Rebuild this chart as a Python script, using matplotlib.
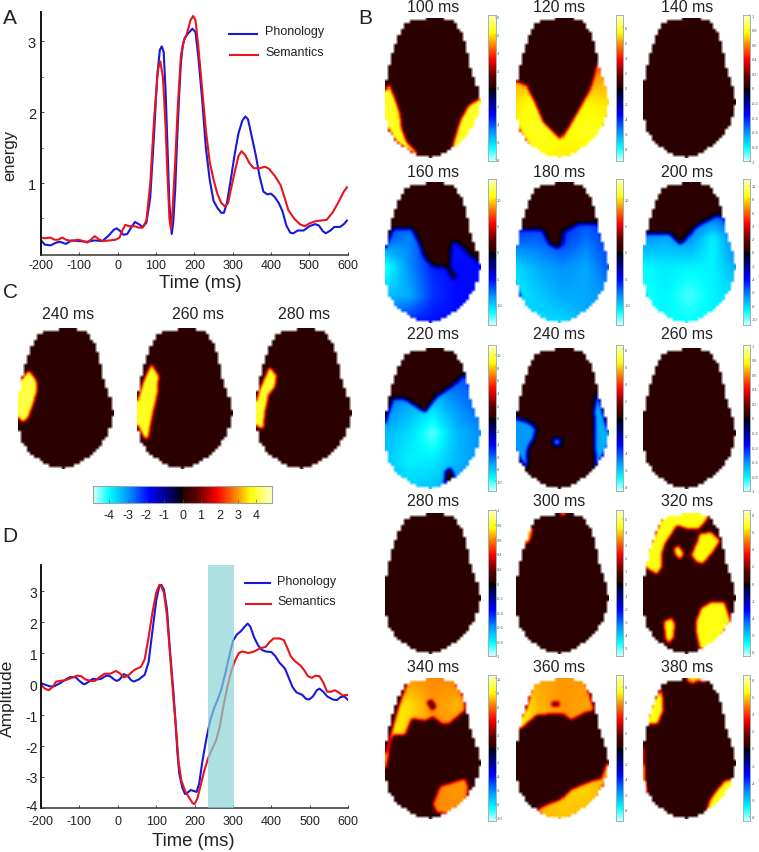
import numpy as np
import matplotlib
matplotlib.use('Agg')
import matplotlib.pyplot as plt
from matplotlib.colors import LinearSegmentedColormap, Normalize
from matplotlib.lines import Line2D
from matplotlib.path import Path
from matplotlib.transforms import ScaledTranslation

plt.rcParams['font.family'] = ['Liberation Sans', 'DejaVu Sans']
plt.rcParams['axes.unicode_minus'] = False
W, H = 759, 853

# ---------- panel A curves ----------
A_PHON_T = [-200,-190,-175,-160,-150,-135,-120,-100,-80,-60,-40,-25,-10,-3,5,15,25,35,45,55,65,75,85,95,103,110,115,120,125,130,135,141,145,150,155,160,165,170,175,185,195,203,210,220,230,240,250,260,270,277,285,295,305,315,325,333,340,350,360,370,380,390,400,410,420,430,440,450,458,470,485,500,515,525,535,543,555,565,580,590,598]
A_PHON_V = [.19,.13,.12,.16,.17,.14,.19,.18,.17,.19,.18,.25,.34,.36,.33,.27,.28,.37,.45,.42,.38,.44,.8,1.7,2.5,2.88,2.93,2.85,2.3,1.5,.7,.28,.45,.9,1.6,2.2,2.7,2.95,3.05,3.12,3.18,3.13,2.8,2.2,1.5,1.05,.75,.65,.58,.58,.72,1.05,1.4,1.7,1.88,1.94,1.9,1.65,1.4,1.1,.88,.84,.85,.8,.72,.6,.4,.3,.29,.33,.33,.39,.42,.4,.32,.29,.33,.38,.38,.42,.47]
A_SEM_T = [-200,-190,-175,-165,-155,-145,-135,-120,-105,-95,-80,-70,-60,-50,-40,-20,-5,5,12,20,30,45,55,65,75,85,95,105,111,118,125,130,135,139,143,150,157,165,172,180,190,197,203,210,220,230,240,250,260,270,280,288,295,305,315,323,332,345,355,370,385,395,410,425,435,445,460,475,488,500,515,530,545,560,575,590,598]
A_SEM_V = [.23,.22,.23,.2,.2,.23,.2,.18,.2,.19,.16,.2,.25,.21,.18,.19,.2,.23,.33,.41,.39,.39,.37,.37,.47,1.0,1.9,2.6,2.72,2.5,1.8,1.1,.5,.35,.6,1.3,2.1,2.8,3.0,3.1,3.3,3.36,3.3,2.95,2.35,1.75,1.3,1.05,.85,.72,.67,.72,.9,1.15,1.38,1.45,1.4,1.27,1.21,1.21,1.23,1.2,1.1,.97,.8,.62,.5,.42,.39,.43,.46,.47,.48,.58,.72,.88,.94]

# ---------- panel D curves ----------
D_PHON_T = [-200,-190,-175,-165,-150,-135,-125,-110,-100,-90,-85,-75,-65,-55,-45,-30,-20,-10,-3,5,15,25,35,42,55,70,80,90,100,108,113,120,128,135,145,150,155,160,168,175,182,190,197,205,212,220,230,240,250,260,270,280,290,300,310,320,330,338,345,355,365,375,385,400,410,420,435,445,455,465,480,490,498,508,518,525,535,545,560,570,580,590,598]
D_PHON_V = [.03,-.02,-.08,-.07,.03,.15,.22,.22,.1,0,0,.08,.17,.15,.16,.27,.25,.15,.1,.15,.32,.27,.12,.08,.15,.3,.7,1.7,2.7,3.15,3.2,3.05,2.4,1.2,-.3,-1.2,-2.2,-2.9,-3.35,-3.55,-3.5,-3.42,-3.45,-3.48,-3.2,-2.5,-1.8,-1.2,-.8,-.5,-.15,.35,.9,1.4,1.6,1.7,1.85,1.95,1.85,1.5,1.25,1.1,1.05,1.03,.9,.7,.5,.2,-.1,-.27,-.35,-.48,-.5,-.4,-.2,-.15,-.25,-.4,-.5,-.52,-.42,-.4,-.5]
D_SEM_T = [-200,-190,-180,-170,-160,-150,-135,-120,-105,-95,-85,-70,-60,-50,-35,-20,-5,5,15,25,35,45,60,70,80,90,100,108,113,120,128,135,145,152,158,165,175,185,195,200,207,215,225,235,245,255,265,275,285,295,305,315,325,340,355,370,385,395,405,420,432,440,450,460,475,485,495,505,515,525,535,545,555,565,575,585,598]
D_SEM_V = [-.03,-.15,-.2,-.1,.08,.1,.13,.2,.27,.25,.15,.1,.1,.2,.33,.33,.42,.35,.22,.25,.37,.47,.55,.8,1.5,2.3,2.95,3.2,3.15,2.95,2.2,1.1,-.5,-1.5,-2.5,-3.1,-3.45,-3.65,-3.85,-3.87,-3.7,-3.3,-2.8,-2.4,-2.1,-1.85,-1.4,-.7,-.1,.4,.75,1.0,1.05,1.0,1.05,1.15,1.2,1.35,1.47,1.47,1.42,1.2,.9,.75,.6,.45,.25,.2,.27,.25,.05,-.25,-.25,-.2,-.27,-.37,-.35]
D_BAND = [235.6, 302]

X_TICKS = [-200,-100,0,100,200,300,400,500,600]
A_YTICKS = [1,2,3]
A_YMINOR = [.5,1.5,2.5]
D_YTICKS = [-4,-3,-2,-1,0,1,2,3]

# ---------- scalp outline (local units, 277 wide, 421 high) ----------
HEAD = [(142,0),(187,7),(202,19),(222,49),(232,79),(242,124),(252,169),(267,214),(277,249),(272,279),(257,319),(242,344),(212,379),(182,399),(132,421),(87,409),(47,384),(17,349),(7,324),(0,269),(0,219),(7,169),(17,129),(27,94),(39,59),(60,16),(87,9),(122,3)]

# ---------- value grids of the graded maps (rows top to bottom, normalised -1..1) ----------
G160 = [[-.4,-.4,-.4,-.4,-.4],[-.45,-.45,-.4,-.4,-.4],[-.5,-.58,-.42,-.4,-.4],[-.87,-.6,-.42,-.38,-.38],[-.7,-.66,-.45,-.38,-.38],[-.45,-.4,-.38,-.38,-.38]]
G180 = [[-.4,-.4,-.4,-.4,-.4],[-.4,-.4,-.4,-.45,-.42],[-.5,-.52,-.45,-.55,-.45],[-.75,-.65,-.6,-.65,-.5],[-.78,-.72,-.65,-.65,-.6],[-.65,-.75,-.75,-.65,-.55]]
G200 = [[-.4,-.4,-.4,-.4,-.4],[-.45,-.45,-.45,-.45,-.45],[-.6,-.65,-.6,-.8,-.55],[-.82,-.78,-.8,-.8,-.65],[-.85,-.8,-.88,-.8,-.75],[-.8,-.82,-.82,-.8,-.75]]
G220 = [[-.45,-.45,-.45,-.45,-.45],[-.5,-.5,-.5,-.5,-.5],[-.55,-.65,-.72,-.6,-.5],[-.68,-.75,-.9,-.68,-.6],[-.7,-.8,-.78,-.68,-.6],[-.65,-.72,-.7,-.62,-.55]]
G120 = [[.62,.62,.62,.62,.62],[.62,.62,.62,.62,.62],[.62,.62,.62,.6,.62],[.72,.8,.75,.75,.72],[.76,.8,.76,.8,.76],[.72,.76,.74,.72,.7]]
G340 = [[.62,.62,.6,.6,.6],[.76,.72,.62,.66,.6],[.76,.7,.6,.6,.6],[.62,.62,.62,.62,.62],[.62,.62,.6,.62,.62],[.6,.6,.6,.6,.6]]
G360 = [[.64,.64,.62,.62,.62],[.78,.66,.62,.64,.62],[.78,.68,.62,.62,.62],[.66,.66,.66,.66,.66],[.66,.66,.7,.7,.66],[.66,.66,.68,.66,.66]]

# ---------- regions: polygon read in zoomed (3x) coordinates, value or grid ----------
R100 = [([(58,258),(30,300),(35,360),(80,430),(140,470),(140,460),(110,430),(95,390),(90,345),(75,300)], .8),
        ([(330,298),(295,320),(270,365),(250,430),(245,465),(290,440),(330,380),(345,300)], .8)]
R120 = [([(437,250),(470,262),(490,300),(520,370),(570,420),(590,390),(630,320),(660,265),(670,230),(680,190),(730,300),(680,440),(600,490),(500,480),(420,350)], G120)]
R160 = [([(70,690),(125,690),(145,730),(160,770),(185,800),(225,805),(250,840),(262,835),(240,800),(245,735),(258,732),(300,770),(332,795),(340,985),(30,985),(30,790)], G160)]
R180 = [([(440,695),(515,695),(535,735),(560,750),(575,740),(580,700),(625,675),(680,675),(730,800),(680,985),(480,985),(420,800)], G180)]
R200 = [([(825,705),(895,705),(930,738),(945,725),(975,685),(1040,650),(1060,660),(1110,800),(1050,990),(850,985),(800,790)], G200)]
R220 = [([(70,180),(100,180),(165,222),(200,175),(250,140),(285,108),(345,270),(320,450),(30,450),(40,270)], G220),
        ([(222,432),(225,395),(240,385),(252,405),(248,432)], 0)]
R240 = [([(437,238),(475,250),(497,268),(490,295),(472,325),(468,385),(445,350),(425,300)], -.62),
        ([(680,165),(670,215),(672,300),(675,385),(720,300),(700,240)], -.66),
        ([(550,300),(570,300),(570,318),(550,318)], -.6)]
R300 = [([(562,20),(575,38),(595,20)], .72),
        ([(488,75),(480,110),(462,125),(440,120),(470,70)], .7)]
R320 = [([(880,30),(1010,20),(1010,45),(985,75),(950,75),(920,65),(905,90),(885,120),(875,150),(875,190),(860,213),(830,195),(815,180),(850,100)], .78),
        ([(910,135),(925,125),(942,150),(930,168),(915,155)], .76),
        ([(985,90),(1020,85),(1048,110),(1030,140),(995,182),(975,175),(960,155),(975,120)], .76),
        ([(990,310),(1020,292),(1060,292),(1080,350),(1040,410),(1000,440),(985,430),(975,385),(975,350)], .78),
        ([(880,350),(905,340),(915,360),(910,400),(895,418),(885,400)], .76)]
R340 = [([(115,525),(200,515),(250,525),(285,590),(285,620),(235,662),(215,662),(190,640),(165,652),(125,645),(105,695),(70,695),(60,720),(55,760),(50,792),(35,792),(60,700),(85,610)], G340),
        ([(170,595),(185,588),(197,610),(185,620)], 0),
        ([(210,845),(285,822),(295,850),(285,910),(235,930),(200,925),(187,900)], G340)]
R360 = [([(490,520),(640,520),(670,620),(640,628),(600,650),(575,630),(540,632),(500,635),(450,677),(430,680),(470,610)], G360),
        ([(545,595),(565,595),(567,608),(545,608)], 0),
        ([(710,770),(690,822),(660,830),(600,855),(570,885),(530,900),(500,915),(540,965),(660,920),(720,800)], G360)]
R380 = [([(950,515),(1000,515),(1005,535),(975,532),(965,542),(950,530)], .72),
        ([(875,555),(880,620),(862,662),(825,662),(850,590)], .78),
        ([(820,730),(825,830),(832,865),(805,870),(805,730)], .78),
        ([(1075,825),(1060,830),(1035,860),(1015,890),(1005,925),(1090,900),(1090,830)], .78)]
RC240 = [([(88,245),(110,275),(112,310),(100,345),(85,385),(70,400),(45,370),(40,300)], .84)]
RC260 = [([(455,225),(477,260),(475,310),(460,370),(445,450),(432,445),(400,380),(430,280)], .8)]
RC280 = [([(808,235),(830,260),(825,295),(805,320),(795,370),(790,418),(775,415),(755,380),(780,300)], .82)]

# ---------- layout of panel B ----------
COL_X = [(45,287),(437,277),(818,277)]
ROW_Y = [(57,0),(550,0),(28,340),(28,505),(523,505)]
B_TITLES = [['100 ms','120 ms','140 ms'],['160 ms','180 ms','200 ms'],['220 ms','240 ms','260 ms'],['280 ms','300 ms','320 ms'],['340 ms','360 ms','380 ms']]
B_REGIONS = [[R100,R120,[]],[R160,R180,R200],[R220,R240,[]],[[],R300,R320],[R340,R360,R380]]
B_TITLE_X = [433,559.5,687]
B_TITLE_Y = [7,173,335,502,668]
CBAR_X = [(488,495.5),(615.5,623),(742.5,750)]
CBAR_Y = [(16,162),(180,326),(346,492),(511,657),(676,822)]
CBAR_MAX = [[8.2,9.6,1],[14,14,11],[11.5,8.5,1],[1,5.7,8.5],[10.5,9.5,8.5]]
CBAR_STEP = [[2,2,.2],[5,5,2],[2,2,.2],[.2,1,2],[2,2,2]]

cmap = LinearSegmentedColormap.from_list('scalp', [
    (0.0,'#d8ffff'),(0.09,'#00ffff'),(0.2,'#0090ff'),(0.315,'#0000ff'),(0.45,'#000050'),(0.4985,'#000000'),
    (0.5,'#2a0000'),(0.58,'#5a0000'),(0.695,'#ff0000'),(0.8,'#ff8800'),(0.88,'#ffff00'),(1.0,'#ffffc8')], N=1024)
norm = Normalize(-1, 1)


def px_axes(x0, y0, x1, y1, **kw):
    return fig.add_axes([x0/W, 1-y1/H, (x1-x0)/W, (y1-y0)/H], **kw)


def ftext(x, y, s, **kw):
    kw.setdefault('ha', 'center')
    kw.setdefault('va', 'center')
    kw.setdefault('color', '#222222')
    fig.text(x/W, 1-y/H, s, **kw)


def box_blur(a):
    p = np.pad(a, 1, mode='edge')
    return sum(np.roll(np.roll(p, i, 0), j, 1) for i in (-1,0,1) for j in (-1,0,1))[1:-1,1:-1]/9


def draw_head(zx0, zw, zy0, ox, oy, regions):
    zh = 421
    ax = px_axes(ox+zx0/3, oy+zy0/3, ox+(zx0+zw)/3, oy+(zy0+zh)/3)
    nx, ny = int(round(zw/3)), int(round(zh/3))
    xs = zx0 + (np.arange(nx)+.5)*zw/nx
    ys = zy0 + (np.arange(ny)+.5)*zh/ny
    xx, yy = np.meshgrid(xs, ys)
    pts = np.c_[xx.ravel(), yy.ravel()]
    field = np.zeros(xx.shape)
    for poly, val in regions:
        inside = Path(poly).contains_points(pts).reshape(xx.shape)
        if np.isscalar(val):
            field[inside] = val
        else:
            g = np.array(val, float)
            rows = np.linspace(zy0, zy0+zh, g.shape[0])
            cols = np.linspace(zx0, zx0+zw, g.shape[1])
            tmp = np.array([np.interp(ys, rows, g[:,c]) for c in range(g.shape[1])]).T
            full = np.array([np.interp(xs, cols, r) for r in tmp])
            field[inside] = full[inside]
    # blocky head mask at the original map resolution
    cell = 9.0
    lx = (xx-zx0)*277/zw
    ly = yy-zy0
    snapped = np.c_[(np.floor(lx.ravel()/cell)+.5)*cell, (np.floor(ly.ravel()/cell)+.5)*cell]
    mask = Path(HEAD).contains_points(snapped).reshape(xx.shape)
    f = field
    for _ in range(3):
        f = box_blur(f)
    rgb = cmap(norm(f))[..., :3]
    rgb[~mask] = 1.0
    for c in range(3):
        rgb[..., c] = box_blur(rgb[..., c])
    ax.imshow(rgb, extent=(zx0, zx0+zw, zy0+zh, zy0), aspect='auto', interpolation='nearest')
    ax.axis('off')
    return ax


def cbar_ticks(vmax, step):
    n = int(np.floor(vmax/step + 1e-9))
    return [i*step for i in range(-n, n+1)]


def fmt_tick(v, step):
    if step < 1 and abs(v) > 1e-9 and abs(abs(v)-1) > 1e-9:
        return f'{v:.1f}'
    return f'{v:.0f}'


fig = plt.figure(figsize=(W/100, H/100), dpi=100, facecolor='white')

# panel B maps + colour bars
for r, (zy0, oy) in enumerate(ROW_Y):
    for c, (zx0, zw) in enumerate(COL_X):
        draw_head(zx0, zw, zy0, 370, oy, B_REGIONS[r][c])
        ftext(B_TITLE_X[c], B_TITLE_Y[r], B_TITLES[r][c], fontsize=11.4)
        vm, st = CBAR_MAX[r][c], CBAR_STEP[r][c]
        cax = px_axes(CBAR_X[c][0], CBAR_Y[r][0], CBAR_X[c][1], CBAR_Y[r][1])
        cax.imshow(np.linspace(1, -1, 512)[:, None], cmap=cmap, norm=norm, aspect='auto', extent=(0, 1, -vm, vm))
        cax.set_xticks([])
        tk = cbar_ticks(vm, st)
        cax.set_yticks(tk)
        cax.set_yticklabels([fmt_tick(v, st) for v in tk])
        cax.yaxis.tick_right()
        cax.tick_params(axis='y', direction='in', length=1, width=.3, labelsize=2.8, pad=1, colors='#555555')
        for s in cax.spines.values():
            s.set_color('#9ab5b5')
            s.set_linewidth(.7)

# panel C maps and colour bar
C_HEADS = [(55, RC240, '240 ms', 68), (412, RC260, '260 ms', 198), (768, RC280, '280 ms', 304)]
for zx0, reg, ttl, tx in C_HEADS:
    draw_head(zx0, 287, 118, 0, 290, reg)
    ftext(tx, 315, ttl, fontsize=11.4)
C_TICKS = [-4,-3,-2,-1,0,1,2,3,4]
cb = px_axes(93.3, 486.7, 272, 504)
cb.imshow(np.linspace(-1, 1, 512)[None, :], cmap=cmap, norm=norm, aspect='auto', extent=(-4.87, 4.87, 0, 1))
cb.set_yticks([])
cb.set_xticks(C_TICKS)
cb.set_xticklabels([str(v) for v in C_TICKS])
cb.tick_params(axis='x', direction='in', length=3, width=.4, labelsize=9, pad=4, color='#555555', labelcolor='#222222')
for s in cb.spines.values():
    s.set_color('#9aa5a0')
    s.set_linewidth(.8)

BLUE = '#1818d8'
RED = '#e8141c'


def style_line_axes(ax, yticks, ylim, ysize, xpad, ypad):
    ax.set_xlim(-200, 600)
    ax.set_ylim(*ylim)
    ax.set_xticks(X_TICKS)
    ax.set_yticks(yticks)
    ax.spines['top'].set_visible(False)
    ax.spines['right'].set_visible(False)
    ax.spines['left'].set_linewidth(1.3)
    ax.spines['bottom'].set_linewidth(1.1)
    ax.spines['bottom'].set_color('#333333')
    ax.tick_params(axis='x', direction='in', length=2, width=.5, labelsize=9, pad=xpad, labelcolor='#222222')
    ax.tick_params(axis='y', direction='in', length=2.5, width=.5, labelsize=ysize, pad=ypad, labelcolor='#222222')
    ax.patch.set_alpha(0)


# panel A
axA = px_axes(41, 12.7, 347.7, 255.7)
axA.plot(A_PHON_T, A_PHON_V, color=BLUE, lw=1.5, solid_joinstyle='round')
axA.plot(A_SEM_T, A_SEM_V, color=RED, lw=1.5, solid_joinstyle='round')
style_line_axes(axA, A_YTICKS, (-.012, 3.42), 10.5, 3, 3.6)
axA.set_yticks(A_YMINOR, minor=True)
axA.tick_params(axis='y', which='minor', direction='in', length=1.5, width=.5)
ftext(200, 283, 'Time (ms)', fontsize=13.3)
ftext(10, 155, 'energy', fontsize=12, rotation=90)

# panel D
axD = px_axes(41, 566, 348.3, 809.3)
axD.plot(D_PHON_T, D_PHON_V, color=BLUE, lw=1.5, solid_joinstyle='round')
axD.plot(D_SEM_T, D_SEM_V, color=RED, lw=1.5, solid_joinstyle='round')
axD.axvspan(D_BAND[0], D_BAND[1], facecolor='#8ad4d4', alpha=.7, lw=0, zorder=5)
style_line_axes(axD, D_YTICKS, (-4.01, 3.84), 10, 4.5, 2.5)
# the bottom label sits a little above its tick, clear of the -200 label
low = axD.get_yticklabels()[0]
low.set_transform(low.get_transform() + ScaledTranslation(0, 3.5/100, fig.dpi_scale_trans))
ftext(193, 842, 'Time (ms)', fontsize=13.3)
ftext(7, 698, 'Amplitude', fontsize=12.5, rotation=90)

# legends
LEGEND_NAMES = ['Phonology', 'Semantics']
for (x0, x1, y, col, tx, ty, name) in [
        (228.5, 256.5, 34.5, BLUE, 265, 32.5, LEGEND_NAMES[0]),
        (230, 257.5, 56, RED, 265, 52.5, LEGEND_NAMES[1]),
        (245, 270, 584, BLUE, 277.5, 582, LEGEND_NAMES[0]),
        (246, 271, 605, RED, 277.5, 602, LEGEND_NAMES[1])]:
    fig.add_artist(Line2D([x0/W, x1/W], [1-y/H, 1-y/H], color=col, lw=1.5, transform=fig.transFigure))
    ftext(tx, ty, name, fontsize=9, ha='left')

# panel letters
for s, x, y in [('A', 10, 19), ('B', 365, 19), ('C', 10, 292), ('D', 10, 536)]:
    ftext(x, y, s, fontsize=15)

fig.savefig('out.png', dpi=100, facecolor='white')
